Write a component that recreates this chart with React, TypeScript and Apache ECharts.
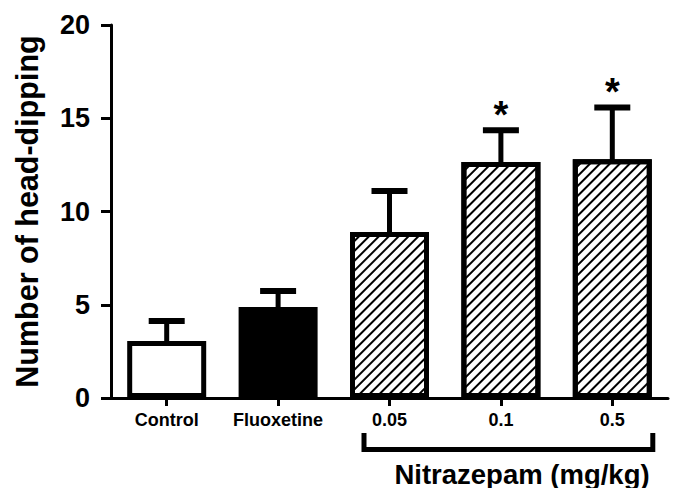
import React, { useEffect, useRef } from 'react';
import * as echarts from 'echarts';

const categories = ['Control', 'Fluoxetine', '0.05', '0.1', '0.5'];
const means = [3.05, 4.88, 8.9, 12.65, 12.8];
const upperErr = [4.13, 5.74, 11.1, 14.35, 15.58];
const significant = [false, false, false, true, true];
const fillKinds = ['white', 'black', 'hatch', 'hatch', 'hatch'];
const yMin = 0;
const yMax = 20;
const yStep = 5;
const yTitle = 'Number of head-dipping';
const groupTitle = 'Nitrazepam (mg/kg)';

const FONT = '"Liberation Sans", Arial, Helvetica, sans-serif';

const hatchDecal = {
  symbol: 'rect',
  symbolSize: 1,
  color: '#000',
  dashArrayX: [1, 0],
  dashArrayY: [2, 5],
  rotation: -Math.PI / 4,
};

function barItem(v: number, kind: string) {
  const itemStyle: any = {
    color: kind === 'black' ? '#000' : '#fff',
    borderColor: '#000',
    borderWidth: 5,
  };
  if (kind === 'hatch') itemStyle.decal = hatchDecal;
  return { value: v, itemStyle };
}

export default function App() {
  const ref = useRef<HTMLDivElement>(null);
  useEffect(() => {
    if (!ref.current) return;
    const chart = echarts.init(ref.current, undefined, { renderer: 'svg' });
    chart.setOption({
      animation: false,
      grid: { left: 111, right: 5, top: 25, bottom: 90 },
      xAxis: {
        type: 'category',
        data: categories,
        axisLine: { show: true, lineStyle: { color: '#000', width: 3 } },
        axisTick: { show: true, alignWithLabel: true, length: 8, lineStyle: { color: '#000', width: 3 } },
        axisLabel: { color: '#000', fontFamily: FONT, fontWeight: 'bold', fontSize: 18, margin: 13, interval: 0 },
        splitLine: { show: false },
      },
      yAxis: {
        type: 'value',
        min: yMin,
        max: yMax,
        interval: yStep,
        axisLine: { show: true, lineStyle: { color: '#000', width: 3 } },
        axisTick: { show: true, length: 10, lineStyle: { color: '#000', width: 3 } },
        axisLabel: { color: '#000', fontFamily: FONT, fontWeight: 'bold', fontSize: 27, margin: 21 },
        splitLine: { show: false },
      },
      series: [
        {
          type: 'bar',
          barWidth: 79,
          data: means.map((v, i) => barItem(v, fillKinds[i])),
          z: 2,
        },
        {
          type: 'custom',
          z: 3,
          data: categories.map((c, i) => [i, means[i], upperErr[i], significant[i] ? 1 : 0]),
          encode: { x: 0, y: 2 },
          renderItem: (params: any, api: any) => {
            const x = api.value(0);
            const p0 = api.coord([x, api.value(1)]);
            const p1 = api.coord([x, api.value(2)]);
            const half = 18;
            const children: any[] = [
              { type: 'line', shape: { x1: p0[0], y1: p0[1] + 2, x2: p1[0], y2: p1[1] }, style: { stroke: '#000', lineWidth: 5 } },
              { type: 'line', shape: { x1: p1[0] - half, y1: p1[1], x2: p1[0] + half, y2: p1[1] }, style: { stroke: '#000', lineWidth: 6 } },
            ];
            if (api.value(3)) {
              children.push({
                type: 'text',
                style: {
                  text: '*',
                  x: p1[0],
                  y: p1[1] + 4,
                  align: 'center',
                  verticalAlign: 'bottom',
                  fontFamily: FONT,
                  fontWeight: 'bold',
                  fontSize: 38,
                  fill: '#000',
                },
              });
            }
            return { type: 'group', children };
          },
        },
      ],
    });

    const xl = chart.convertToPixel({ xAxisIndex: 0 }, categories[2]) as number;
    const xr = chart.convertToPixel({ xAxisIndex: 0 }, categories[4]) as number;
    const y0 = chart.convertToPixel({ yAxisIndex: 0 }, 0) as number;
    const yTop = chart.convertToPixel({ yAxisIndex: 0 }, yMax) as number;
    const L = xl - 25.5;
    const R = xr + 40.5;
    chart.setOption({
      graphic: [
        {
          type: 'polyline',
          shape: { points: [[L, y0 + 35], [L, y0 + 51.5], [R, y0 + 51.5], [R, y0 + 35]] },
          style: { stroke: '#000', lineWidth: 5, fill: null, lineJoin: 'miter' },
        },
        {
          type: 'text',
          x: 522,
          y: y0 + 76,
          style: {
            text: groupTitle,
            align: 'center',
            verticalAlign: 'middle',
            fontFamily: FONT,
            fontWeight: 'bold',
            fontSize: 27.5,
            fill: '#000',
          },
        },
        {
          type: 'text',
          x: 27,
          y: (y0 + yTop) / 2,
          rotation: Math.PI / 2,
          style: {
            text: yTitle,
            align: 'center',
            verticalAlign: 'middle',
            fontFamily: FONT,
            fontWeight: 'bold',
            fontSize: 30.5,
            fill: '#000',
          },
        },
      ],
    });
    return () => chart.dispose();
  }, []);
  return <div ref={ref} style={{ position: 'fixed', left: 0, top: 0, width: 673, height: 488, background: '#fff' }} />;
}
